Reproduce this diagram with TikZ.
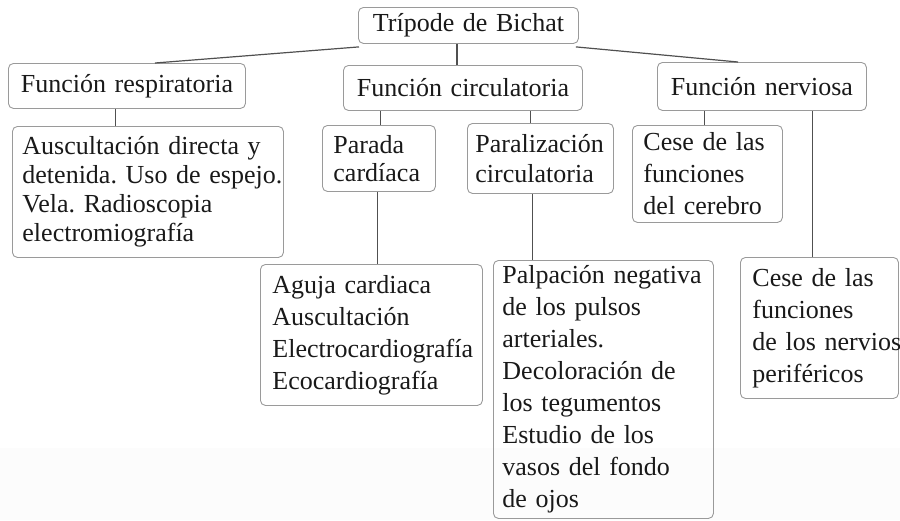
\documentclass[tikz,border=0pt]{standalone}
\usepackage{fontspec}
\setmainfont{Liberation Serif}
\hyphenpenalty=10000
\exhyphenpenalty=10000
\definecolor{boxc}{HTML}{9A9A9A}
\definecolor{linec}{HTML}{505050}
\begin{document}
\begin{tikzpicture}[x=1pt,y=-1pt,
  box/.style={draw=boxc, line width=0.9pt, rounded corners=5pt, anchor=north west,
    inner ysep=0pt, text=black!90, align=left},
  sz/.style={font=\fontsize{26}{#1}\selectfont},
  conn/.style={draw=linec, line width=1.2pt}]
\useasboundingbox (0,0) rectangle (900,520);
\fill[gray!2] (0,448) rectangle (900,520);
% top level
\node[box, align=center, sz=30, text width=210pt, inner xsep=5pt, minimum height=36pt] (root) at (358,7) {Trípode~de~Bichat};
\node[box, align=center, sz=30, text width=227pt, inner xsep=5pt, minimum height=45pt] (resp) at (8,63) {Función~respiratoria};
\node[box, align=center, sz=30, text width=229pt, inner xsep=5pt, minimum height=45pt] (circ) at (343,65) {Función~circulatoria};
\node[box, align=center, sz=30, text width=199pt, inner xsep=5pt, minimum height=48pt] (nerv) at (657,62) {Función~nerviosa};
% second level
\node[box, sz=29, text width=251pt, inner xsep=10pt, minimum height=131pt] (ausc) at (12,126)
  {Auscultación~directa~y\\detenida.~Uso~de~espejo.\\Vela.~Radioscopia\\electromiografía};
\node[box, sz=28, text width=91pt, inner xsep=11pt, minimum height=66pt] (parada) at (322,125)
  {Parada\\cardíaca};
\node[box, sz=30, text width=130pt, inner xsep=8pt, minimum height=70pt] (paral) at (467,123)
  {Paralización\\circulatoria};
\node[box, sz=32, text width=128pt, inner xsep=11pt, minimum height=97pt] (cerebro) at (632,125)
  {Cese~de~las\\funciones\\del~cerebro};
% third level
\node[box, sz=32, text width=198pt, inner xsep=12pt, minimum height=141pt] (aguja) at (260,264)
  {Aguja~cardiaca\\Auscultación\\Electrocardiografía\\Ecocardiografía};
\node[box, sz=32, text width=202pt, inner xsep=9pt, minimum height=258pt] (palp) at (493,260)
  {Palpación~negativa\\de~los~pulsos\\arteriales.\\Decoloración~de\\los~tegumentos\\Estudio~de~los\\vasos~del~fondo\\de~ojos};
\node[box, sz=32, text width=134pt, inner xsep=12pt, minimum height=141pt] (nervios) at (740,257)
  {Cese~de~las\\funciones\\de~los~nervios\\periféricos};
% connectors
\draw[conn] ([xshift=1pt,yshift=-3pt]root.south west) -- ([xshift=147pt]resp.north west);
\draw[conn] ([xshift=-6pt]circ.north) -- ([xshift=-6pt]circ.north |- root.south);
\draw[conn] ([xshift=-3pt,yshift=-3pt]root.south east) -- ([xshift=81pt]nerv.north west);
\draw[conn] ([xshift=-11.5pt]resp.south) -- ([xshift=-11.5pt]resp.south |- ausc.north);
\draw[conn] ([xshift=1.5pt]parada.north) -- ([xshift=1.5pt]parada.north |- circ.south);
\draw[conn] ([xshift=-10pt]paral.north) -- ([xshift=-10pt]paral.north |- circ.south);
\draw[conn] ([xshift=-1.5pt]parada.south) -- ([xshift=-1.5pt]parada.south |- aguja.north);
\draw[conn] ([xshift=-8pt]paral.south) -- ([xshift=-8pt]paral.south |- palp.north);
\draw[conn] ([xshift=-3pt]cerebro.north) -- ([xshift=-3pt]cerebro.north |- nerv.south);
\draw[conn] ([xshift=-7pt]nervios.north) -- ([xshift=-7pt]nervios.north |- nerv.south);
\end{tikzpicture}
\end{document}
